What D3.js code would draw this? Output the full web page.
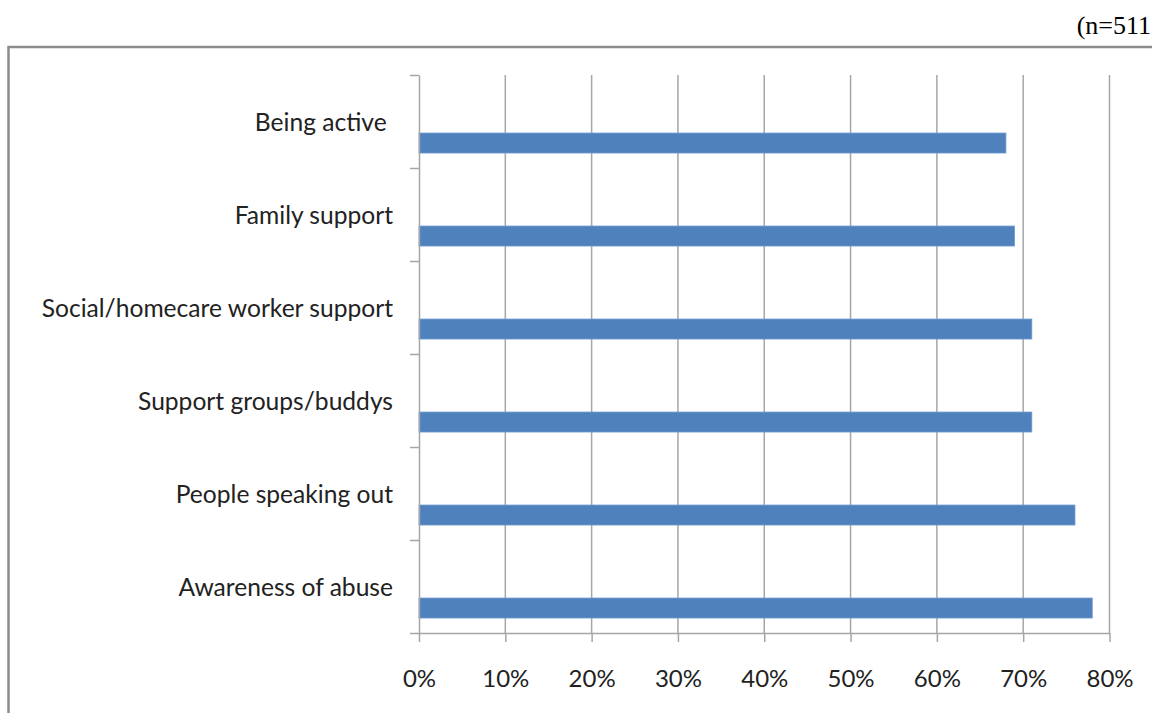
<!DOCTYPE html>
<html>
<head>
<meta charset="utf-8">
<script src="https://cdn.jsdelivr.net/npm/d3@7"></script>
<style>
  html, body { margin: 0; padding: 0; background: #fff; }
  svg { display: block; }
</style>
</head>
<body>
<script>
// Factors rated as helpful, share of respondents
const categories = ["Being active ", "Family support", "Social/homecare worker support",
                    "Support groups/buddys", "People speaking out", "Awareness of abuse"];
const values = [68, 69, 71, 71, 76, 78];
const tickValues = [0, 10, 20, 30, 40, 50, 60, 70, 80];
const sampleNote = "(n=511";

const W = 1152, H = 713;
const plot = { left: 419, right: 1109.5, top: 75, bottom: 633 };
const gridColor = "#a6a6a6";
const barColor = "#4f81bd";
const labelFont = "Lato, Calibri, 'Open Sans', sans-serif";

const svg = d3.select("body").append("svg")
  .attr("width", W).attr("height", H);

// chart frame (right and bottom edges run past the page)
svg.append("rect")
  .attr("x", 8.5).attr("y", 47)
  .attr("width", W + 40).attr("height", H + 40)
  .attr("fill", "none").attr("stroke", "#8c8c8c").attr("stroke-width", 2.5);

svg.append("text")
  .attr("x", 1151).attr("y", 25)
  .attr("text-anchor", "end").attr("dominant-baseline", "central")
  .attr("font-family", "'Liberation Serif', 'DejaVu Serif', serif")
  .attr("font-size", 26).attr("fill", "#000")
  .text(sampleNote);

const x = d3.scaleLinear().domain([0, 80]).range([plot.left, plot.right]);
const y = d3.scaleBand().domain(categories).range([plot.top, plot.bottom]);
const edges = d3.scalePoint().domain(d3.range(categories.length + 1)).range([plot.top, plot.bottom]);

// vertical gridlines
svg.append("g").selectAll("line")
  .data(tickValues.filter(d => d > 0))
  .join("line")
  .attr("x1", d => x(d)).attr("x2", d => x(d))
  .attr("y1", plot.top).attr("y2", plot.bottom)
  .attr("stroke", gridColor).attr("stroke-width", 1.5);

// bars sit in the lower part of each category band
const bw = y.bandwidth();
svg.append("g").selectAll("rect")
  .data(categories.map((c, i) => ({ c, v: values[i] })))
  .join("rect")
  .attr("x", x(0))
  .attr("y", d => y(d.c) + bw * 0.624)
  .attr("width", d => x(d.v) - x(0))
  .attr("height", bw * 0.215)
  .attr("fill", barColor)
  .attr("stroke", "#6f9ad0").attr("stroke-width", 0.8);

// category axis
const yAxis = svg.append("g")
  .attr("transform", `translate(${plot.left},0)`)
  .call(d3.axisLeft(edges).tickFormat("").tickSize(9).tickSizeOuter(0));
yAxis.selectAll("line, path").attr("stroke", gridColor).attr("stroke-width", 1.5);

svg.append("g").selectAll("text")
  .data(categories)
  .join("text")
  .attr("x", 393)
  .attr("y", d => y(d) + bw / 2)
  .attr("text-anchor", "end").attr("dominant-baseline", "central")
  .style("white-space", "pre")
  .attr("font-family", labelFont).attr("font-size", 24.6).attr("fill", "#222")
  .text(d => d);

// value axis
const xAxis = svg.append("g")
  .attr("transform", `translate(0,${plot.bottom})`)
  .call(d3.axisBottom(x).tickValues(tickValues).tickFormat(d => d + "%").tickSize(9).tickSizeOuter(0));
xAxis.selectAll("line, path").attr("stroke", gridColor).attr("stroke-width", 1.5);
xAxis.selectAll("text")
  .attr("y", 44).attr("dy", null).attr("dominant-baseline", "central")
  .attr("font-family", labelFont).attr("font-size", 24).attr("fill", "#222");
</script>
</body>
</html>
